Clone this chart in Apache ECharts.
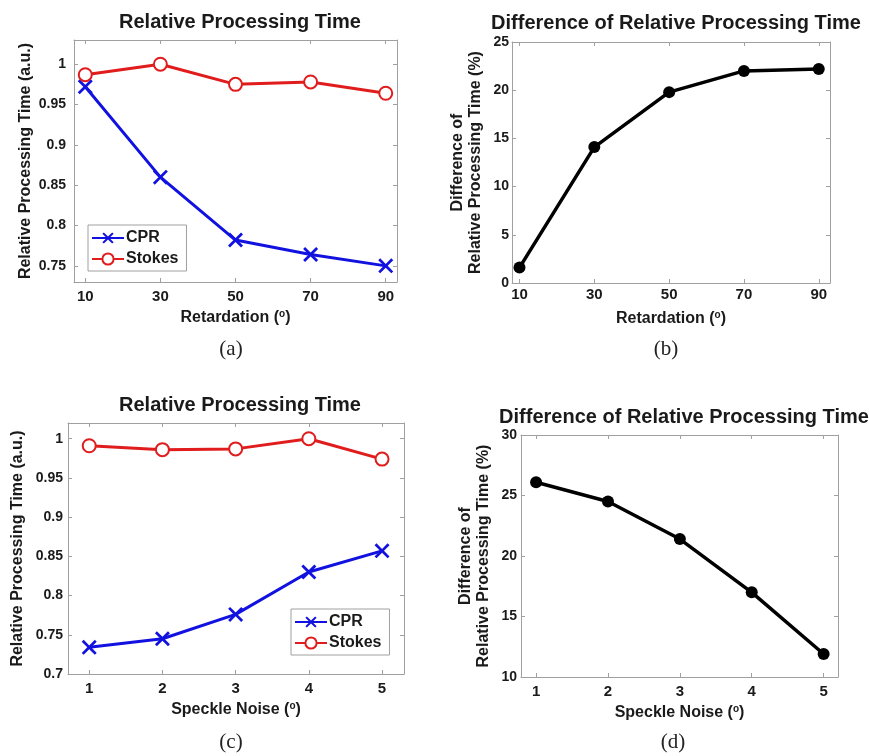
<!DOCTYPE html>
<html>
<head>
<meta charset="utf-8">
<title>Relative Processing Time</title>
<script src="https://cdn.jsdelivr.net/npm/echarts@6/dist/echarts.min.js"></script>
<style>
  html, body { margin: 0; padding: 0; background: #fff; }
  #chart { width: 869px; height: 756px; }
</style>
</head>
<body>
<div id="chart"></div>
<script>
// x values
var retardation = [10, 30, 50, 70, 90];
var speckle = [1, 2, 3, 4, 5];

// (a) retardation
var cprRet = [0.972, 0.860, 0.782, 0.764, 0.750];
var stokesRet = [0.987, 1.000, 0.975, 0.978, 0.964];
// (b) difference vs retardation (%)
var diffRet = [1.6, 14.1, 19.8, 22.0, 22.2];
// (c) speckle noise
var cprSpk = [0.734, 0.745, 0.776, 0.830, 0.857];
var stokesSpk = [0.991, 0.986, 0.987, 1.000, 0.974];
// (d) difference vs speckle noise (%)
var diffSpk = [26.1, 24.5, 21.4, 17.0, 11.9];

// tick labels
var yTicksA = [0.75, 0.8, 0.85, 0.9, 0.95, 1];
var yTicksB = [0, 5, 10, 15, 20, 25];
var yTicksC = [0.7, 0.75, 0.8, 0.85, 0.9, 0.95, 1];
var yTicksD = [10, 15, 20, 25, 30];

var FONT = 'Liberation Sans, Arial, sans-serif';
var BOX = '#a0a0a0';
var BLUE = '#1212e0';
var RED = '#e01c1c';
var XMARK = 'path://M0,1.3 L1.3,0 L5,3.7 L8.7,0 L10,1.3 L6.3,5 L10,8.7 L8.7,10 L5,6.3 L1.3,10 L0,8.7 L3.7,5 Z';

function zip(xs, ys) {
    return xs.map(function (x, i) { return [x, ys[i]]; });
}

function sup(text) {
    return text + ' ({sup|o})';
}

var nameRich = {
    sup: { fontSize: 10, fontWeight: 'bold', fontFamily: FONT, color: '#1a1a1a', verticalAlign: 'top', padding: [0, 0, 8, 0] }
};

// bottom x axis with labels
function xAxisMain(grid, min, max, ticks, name, margin) {
    return {
        type: 'value', gridIndex: grid, min: min, max: max, position: 'bottom',
        name: name, nameLocation: 'middle', nameGap: 27,
        nameTextStyle: { fontSize: 16, fontWeight: 'bold', fontFamily: FONT, color: '#1a1a1a', rich: nameRich },
        axisLine: { onZero: false, lineStyle: { color: BOX, width: 1 } },
        axisTick: { inside: true, length: 4, customValues: ticks, lineStyle: { color: BOX } },
        axisLabel: { customValues: ticks, margin: margin, fontSize: 15, fontWeight: 'bold', fontFamily: FONT, color: '#1a1a1a' },
        splitLine: { show: false }
    };
}

// top mirrored axis (box)
function xAxisTop(grid, min, max, ticks) {
    return {
        type: 'value', gridIndex: grid, min: min, max: max, position: 'top',
        axisLine: { onZero: false, lineStyle: { color: BOX, width: 1 } },
        axisTick: { inside: true, length: 4, customValues: ticks, lineStyle: { color: BOX } },
        axisLabel: { show: false },
        splitLine: { show: false }
    };
}

function yAxisMain(grid, min, max, ticks, name, gap, margin) {
    return {
        type: 'value', gridIndex: grid, min: min, max: max, position: 'left',
        name: name, nameLocation: 'middle', nameGap: gap, nameRotate: 90,
        nameTextStyle: { fontSize: 16, fontWeight: 'bold', fontFamily: FONT, color: '#1a1a1a', lineHeight: 18 },
        axisLine: { onZero: false, lineStyle: { color: BOX, width: 1 } },
        axisTick: { inside: true, length: 4, customValues: ticks, lineStyle: { color: BOX } },
        axisLabel: { customValues: ticks, margin: margin, fontSize: 14, fontWeight: 'bold', fontFamily: FONT, color: '#1a1a1a' },
        splitLine: { show: false }
    };
}

function yAxisRight(grid, min, max, ticks) {
    return {
        type: 'value', gridIndex: grid, min: min, max: max, position: 'right',
        axisLine: { onZero: false, lineStyle: { color: BOX, width: 1 } },
        axisTick: { inside: true, length: 4, customValues: ticks, lineStyle: { color: BOX } },
        axisLabel: { show: false },
        splitLine: { show: false }
    };
}

function cprSeries(ax, data) {
    return {
        name: 'CPR', type: 'line', xAxisIndex: ax, yAxisIndex: ax, data: data,
        symbol: XMARK, symbolSize: 15,
        lineStyle: { color: BLUE, width: 3 },
        itemStyle: { color: BLUE },
        z: 3
    };
}

function stokesSeries(ax, data) {
    return {
        name: 'Stokes', type: 'line', xAxisIndex: ax, yAxisIndex: ax, data: data,
        symbol: 'emptyCircle', symbolSize: 13,
        lineStyle: { color: RED, width: 3 },
        itemStyle: { color: RED, borderColor: RED, borderWidth: 2.5 },
        z: 3
    };
}

function diffSeries(ax, data) {
    return {
        name: 'Difference', type: 'line', xAxisIndex: ax, yAxisIndex: ax, data: data,
        symbol: 'circle', symbolSize: 12,
        lineStyle: { color: '#000', width: 3.5 },
        itemStyle: { color: '#000' },
        z: 3
    };
}

function legendBox(left, top) {
    return {
        data: ['CPR', 'Stokes'], orient: 'vertical', left: left, top: top,
        itemWidth: 32, itemHeight: 14, itemGap: 5,
        padding: [5, 8, 4, 3],
        borderColor: BOX, borderWidth: 1, backgroundColor: '#fff',
        textStyle: { fontSize: 16, fontWeight: 'bold', fontFamily: FONT, color: '#1a1a1a', padding: [0, 0, 0, -3] }
    };
}

function mainTitle(text, cx, top) {
    return {
        text: text, left: cx, top: top, textAlign: 'center',
        textStyle: { fontSize: 20, fontWeight: 'bold', fontFamily: FONT, color: '#1a1a1a' }
    };
}

function subTitle(text, cx, top) {
    return {
        text: text, left: cx, top: top, textAlign: 'center',
        textStyle: { fontSize: 21, fontWeight: 'normal', fontFamily: 'Liberation Serif, Times New Roman, serif', color: '#222' }
    };
}

var chart = echarts.init(document.getElementById('chart'), null, { renderer: 'canvas' });

var option = {
    animation: false,
    backgroundColor: '#fff',
    title: [
        mainTitle('Relative Processing Time', 235, 7),
        mainTitle('Difference of Relative Processing Time', 671, 8),
        mainTitle('Relative Processing Time', 235, 390),
        mainTitle('Difference of Relative Processing Time', 679, 402),
        subTitle('(a)', 226, 334),
        subTitle('(b)', 661, 334),
        subTitle('(c)', 226, 727),
        subTitle('(d)', 668, 727)
    ],
    legend: [legendBox(88, 225), legendBox(291, 609)],
    grid: [
        { left: 74, top: 40, width: 323, height: 242 },
        { left: 512, top: 42, width: 318, height: 241 },
        { left: 68, top: 423, width: 336, height: 251 },
        { left: 521, top: 435, width: 317, height: 242 }
    ],
    xAxis: [
        xAxisMain(0, 7, 93, retardation, sup('Retardation'), 7),
        xAxisMain(1, 8, 93, retardation, sup('Retardation'), 4),
        xAxisMain(2, 0.71, 5.3, speckle, sup('Speckle Noise'), 7),
        xAxisMain(3, 0.79, 5.2, speckle, sup('Speckle Noise'), 7),
        xAxisTop(0, 7, 93, retardation),
        xAxisTop(1, 8, 93, retardation),
        xAxisTop(2, 0.71, 5.3, speckle),
        xAxisTop(3, 0.79, 5.2, speckle)
    ],
    yAxis: [
        yAxisMain(0, 0.73, 1.03, yTicksA, 'Relative Processing Time (a.u.)', 39, 8),
        yAxisMain(1, 0, 25, yTicksB, 'Difference of\nRelative Processing Time (%)', 27, 3),
        yAxisMain(2, 0.7, 1.02, yTicksC, 'Relative Processing Time (a.u.)', 41, 5),
        yAxisMain(3, 10, 30, yTicksD, 'Difference of\nRelative Processing Time (%)', 28, 4),
        yAxisRight(0, 0.73, 1.03, yTicksA),
        yAxisRight(1, 0, 25, yTicksB),
        yAxisRight(2, 0.7, 1.02, yTicksC),
        yAxisRight(3, 10, 30, yTicksD)
    ],
    series: [
        cprSeries(0, zip(retardation, cprRet)),
        stokesSeries(0, zip(retardation, stokesRet)),
        diffSeries(1, zip(retardation, diffRet)),
        cprSeries(2, zip(speckle, cprSpk)),
        stokesSeries(2, zip(speckle, stokesSpk)),
        diffSeries(3, zip(speckle, diffSpk))
    ]
};

chart.setOption(option);
window.addEventListener('resize', function () {
    chart.resize();
});
</script>
</body>
</html>
